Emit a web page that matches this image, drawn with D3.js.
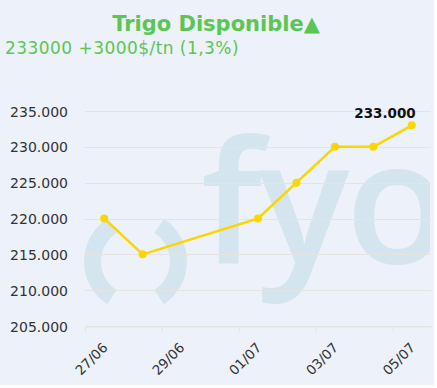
<!DOCTYPE html>
<html>
<head>
<meta charset="utf-8">
<script src="https://cdn.jsdelivr.net/npm/d3@7"></script>
<style>
  body { margin: 0; background: #ffffff; }
  svg { display: block; font-family: "DejaVu Sans", Verdana, sans-serif; }
</style>
</head>
<body>
<div id="chart"></div>
<script>
// precio disponible, una fecha por rueda
var dates = ['2023-06-27', '2023-06-28', '2023-07-01', '2023-07-02', '2023-07-03', '2023-07-04', '2023-07-05'];
var prices = [220000, 215000, 220000, 225000, 230000, 230000, 233000];
var yTicks = [205000, 210000, 215000, 220000, 225000, 230000, 235000];
var xTicks = ['2023-06-27', '2023-06-29', '2023-07-01', '2023-07-03', '2023-07-05'];

var width = 434;
var height = 385;
var margin = { top: 111, right: 3, bottom: 59, left: 85 };

var parseDay = d3.timeParse('%Y-%m-%d');
var fmtTick = d3.timeFormat('%d/%m');
var fmtNum = function (v) { return d3.format(',')(v).replace(/,/g, '.'); };

var points = dates.map(function (d, i) {
  // cada cierre se dibuja a media jornada
  return { date: d3.timeHour.offset(parseDay(d), 12), value: prices[i] };
});

var svg = d3.select('#chart').append('svg')
  .attr('width', width)
  .attr('height', height);

svg.append('rect')
  .attr('width', width)
  .attr('height', height)
  .attr('fill', '#edf1f9');

var x = d3.scaleTime()
  .domain([parseDay(dates[0]), d3.timeDay.offset(parseDay(dates[dates.length - 1]), 1)])
  .range([margin.left, width - margin.right]);

var y = d3.scaleLinear()
  .domain([205000, 235000])
  .range([height - margin.bottom, margin.top]);

// marca de agua
var wm = svg.append('g').attr('fill', '#d5e5ef');
svg.append('clipPath').attr('id', 'plotclip')
  .append('rect')
  .attr('x', margin.left).attr('y', 0)
  .attr('width', width - margin.right - margin.left - 1).attr('height', height);

var ring = d3.arc().innerRadius(34).outerRadius(51);
var a = 57 * Math.PI / 180;
wm.append('path')
  .attr('transform', 'translate(135,261.5)')
  .attr('d', ring({ startAngle: -Math.PI / 2 - a, endAngle: -Math.PI / 2 + a }));
wm.append('path')
  .attr('transform', 'translate(136,261.5)')
  .attr('d', ring({ startAngle: Math.PI / 2 - a, endAngle: Math.PI / 2 + a }));
wm.append('text')
  .attr('x', 201)
  .attr('y', 263)
  .attr('clip-path', 'url(#plotclip)')
  .style('font-family', '"Open Sans", sans-serif')
  .style('font-size', '170px')
  .style('font-weight', 600)
  .style('letter-spacing', '-4px')
  .text('fyo');

// grilla
svg.append('g')
  .selectAll('line')
  .data(yTicks)
  .enter().append('line')
  .attr('x1', margin.left)
  .attr('x2', width - margin.right)
  .attr('y1', function (d) { return Math.round(y(d)) + 0.5; })
  .attr('y2', function (d) { return Math.round(y(d)) + 0.5; })
  .attr('stroke', '#e4e4e0')
  .attr('stroke-width', 1);

var yAxis = svg.append('g')
  .attr('transform', 'translate(' + (margin.left - 14) + ',0)')
  .call(d3.axisLeft(y).tickValues(yTicks).tickSize(0).tickFormat(fmtNum));
yAxis.select('.domain').remove();
yAxis.selectAll('text')
  .attr('fill', '#333333')
  .attr('dy', '0.36em')
  .style('font-size', '14px')
  .style('font-family', '"DejaVu Sans", Verdana, sans-serif');

var xAxis = svg.append('g')
  .attr('transform', 'translate(0,' + (Math.round(y(205000)) + 0.5) + ')')
  .call(d3.axisBottom(x)
    .tickValues(xTicks.map(parseDay))
    .tickSize(5)
    .tickSizeOuter(0)
    .tickFormat(fmtTick));
xAxis.select('.domain').attr('stroke', '#e4e4e0');
xAxis.selectAll('.tick line').attr('stroke', '#e4e4e0');
xAxis.selectAll('text')
  .attr('fill', '#333333')
  .attr('text-anchor', 'end')
  .attr('x', 0)
  .attr('y', 0)
  .attr('dy', 0)
  .attr('transform', 'translate(23,22) rotate(-45)')
  .style('font-size', '13.5px')
  .style('font-family', '"DejaVu Sans", Verdana, sans-serif');

// serie
var line = d3.line()
  .x(function (d) { return x(d.date); })
  .y(function (d) { return y(d.value); });

svg.append('path')
  .datum(points)
  .attr('d', line)
  .attr('fill', 'none')
  .attr('stroke', '#fcd600')
  .attr('stroke-width', 2.5)
  .attr('stroke-linejoin', 'round');

svg.append('g')
  .selectAll('circle')
  .data(points)
  .enter().append('circle')
  .attr('cx', function (d) { return x(d.date); })
  .attr('cy', function (d) { return y(d.value); })
  .attr('r', 4)
  .attr('fill', '#fcd600');

var last = points[points.length - 1];
svg.append('text')
  .attr('x', x(last.date) + 4)
  .attr('y', y(last.value) - 7.5)
  .attr('text-anchor', 'end')
  .attr('fill', '#111111')
  .style('font-weight', 'bold')
  .style('font-size', '13.5px')
  .text(fmtNum(last.value));

// titulos
svg.append('text')
  .attr('x', 216)
  .attr('y', 31)
  .attr('text-anchor', 'middle')
  .attr('fill', '#5cc653')
  .style('font-weight', 'bold')
  .style('font-size', '21px')
  .text('Trigo Disponible\u25B2');

svg.append('text')
  .attr('x', 5)
  .attr('y', 54)
  .attr('fill', '#5cc653')
  .style('font-size', '17px')
  .style('letter-spacing', '0.45px')
  .text('233000 +3000$/tn (1,3%)');
</script>
</body>
</html>
